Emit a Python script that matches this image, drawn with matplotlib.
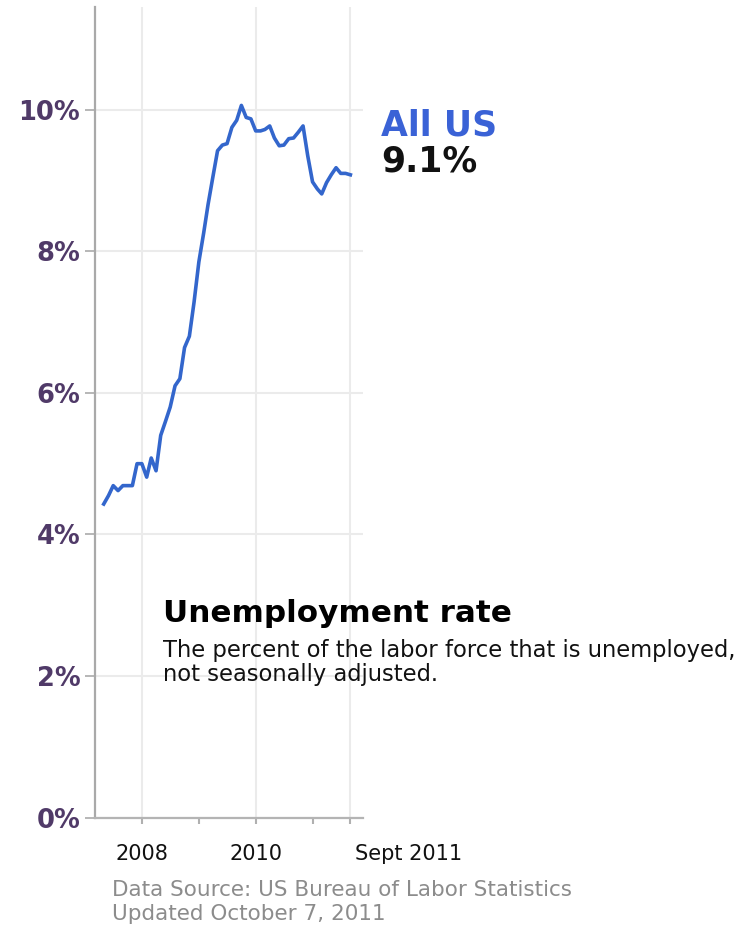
import matplotlib
matplotlib.use("Agg")
import matplotlib.pyplot as plt
import matplotlib.transforms as mtransforms
import pandas as pd

# monthly unemployment rate, May 2007 - Sept 2011
months = pd.date_range("2007-05-01", "2011-09-01", freq="MS")
rate = [4.43, 4.55, 4.69, 4.62, 4.69, 4.69, 4.69, 5.0,
        5.0, 4.81, 5.08, 4.9, 5.4, 5.6, 5.8, 6.1, 6.2, 6.64, 6.8, 7.28,
        7.85, 8.26, 8.66, 9.05, 9.42, 9.5, 9.52, 9.75, 9.85, 10.06, 9.89, 9.87,
        9.7, 9.7, 9.72, 9.77, 9.6, 9.49, 9.5, 9.59, 9.6, 9.68, 9.77, 9.35,
        8.98, 8.88, 8.81, 8.97, 9.08, 9.18, 9.1, 9.1, 9.08]

y_ticks = [0, 2, 4, 6, 8, 10]
y_labels = ["0%", "2%", "4%", "6%", "8%", "10%"]
x_ticks = pd.to_datetime(["2008-01-01", "2010-01-01", "2011-09-01"])
x_labels = ["2008", "2010", "Sept 2011"]
x_minor = pd.to_datetime(["2009-01-01", "2011-01-01"])

W, H = 747, 930
fig = plt.figure(figsize=(W / 100, H / 100), dpi=100)
ax = fig.add_axes([95 / W, 1 - 817.7 / H, 268 / W, 810.7 / H])

ax.plot(months, rate, color="#3366cc", lw=2.6, solid_joinstyle="round", zorder=3)
ax.set_xlim(pd.Timestamp("2007-03-06"), pd.Timestamp("2011-11-21"))
ax.set_ylim(0, 11.45)

# y axis
ax.set_yticks(y_ticks, y_labels)
ax.tick_params(axis="y", length=7, width=1.2, color="#aaaaaa", pad=3.6,
               labelsize=18.5, labelcolor="#503a68")
for lab in ax.get_yticklabels():
    lab.set_fontweight("bold")

# x axis, labels drawn by hand below
ax.set_xticks(x_ticks)
ax.set_xticks(x_minor, minor=True)
ax.tick_params(axis="x", which="both", length=4.5, width=1.5, color="#b0b0b0",
               labelbottom=False)

ax.grid(True, which="major", color="#ebebeb", lw=1.5)
ax.set_axisbelow(True)
for s in ["top", "right"]:
    ax.spines[s].set_visible(False)
ax.spines["left"].set_color("#a9a9a9")
ax.spines["left"].set_linewidth(1.6)
ax.spines["bottom"].set_color("#b4b4b4")
ax.spines["bottom"].set_linewidth(1.6)

base = -(860 - 817.7) / 810.7
for d, lab in zip(x_ticks, x_labels):
    if lab.startswith("Sept"):
        tr = mtransforms.offset_copy(ax.get_xaxis_transform(), fig=fig, x=5, y=0, units="dots")
        ax.text(d, base, lab, transform=tr, ha="left", va="baseline", fontsize=15, color="#111111")
    else:
        ax.text(d, base, lab, transform=ax.get_xaxis_transform(), ha="center", va="baseline",
                fontsize=15, color="#111111")

# labels on the right
fig.text(381 / W, 1 - 135 / H, "All US", color="#3a62d6", fontsize=25, fontweight="bold", va="baseline")
fig.text(381 / W, 1 - 171.7 / H, "9.1%", color="#111111", fontsize=25, fontweight="bold", va="baseline")

# title block
fig.text(163 / W, 1 - 621.7 / H, "Unemployment rate", fontsize=22.3, fontweight="bold", va="baseline")
fig.text(163 / W, 1 - 656.7 / H, "The percent of the labor force that is unemployed,", fontsize=16.3,
         color="#111111", va="baseline")
fig.text(163 / W, 1 - 681 / H, "not seasonally adjusted.", fontsize=16.3, color="#111111", va="baseline")

# source
fig.text(112 / W, 1 - 896 / H, "Data Source: US Bureau of Labor Statistics", fontsize=15.5,
         color="#8c8c8c", va="baseline")
fig.text(112 / W, 1 - 920 / H, "Updated October 7, 2011", fontsize=15.5, color="#8c8c8c", va="baseline")

fig.savefig("out.png", dpi=100)
